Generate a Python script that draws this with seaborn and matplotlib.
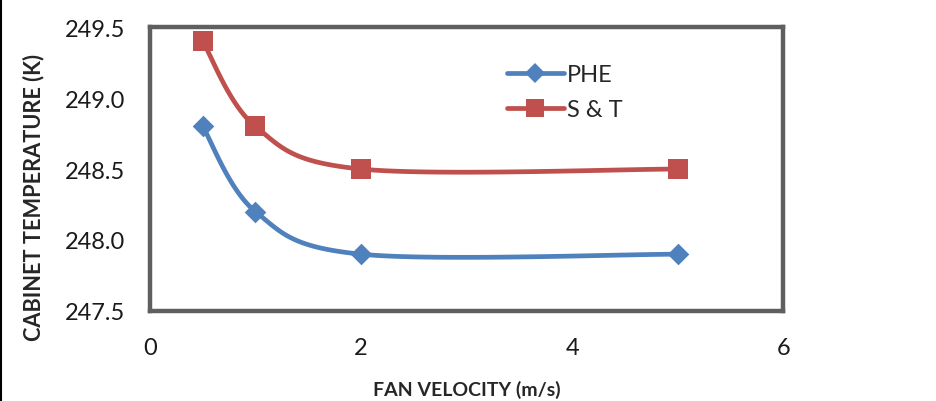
import numpy as np
import pandas as pd
import matplotlib
matplotlib.use("Agg")
import matplotlib.pyplot as plt
from matplotlib.lines import Line2D
import seaborn as sns

velocity = [0.5, 1, 2, 5]
phe = [248.8, 248.2, 247.9, 247.9]
st = [249.4, 248.8, 248.5, 248.5]
series_names = ["PHE", "S & T"]
xticks = [0, 2, 4, 6]
yticks = [247.5, 248.0, 248.5, 249.0, 249.5]

BLUE = "#4F81BD"
RED = "#C0504D"
FRAME = "#5F5F5F"


def smooth(x, y, n=40):
    # Excel-style smoothed line (Catmull-Rom Bezier through the points)
    x = np.asarray(x, float)
    y = np.asarray(y, float)
    px, py = [], []
    m = len(x)
    for i in range(m - 1):
        x0, y0 = (x[i - 1], y[i - 1]) if i > 0 else (x[i], y[i])
        x3, y3 = (x[i + 2], y[i + 2]) if i + 2 < m else (x[i + 1], y[i + 1])
        x1, y1, x2, y2 = x[i], y[i], x[i + 1], y[i + 1]
        c1x, c1y = x1 + (x2 - x0) / 6, y1 + (y2 - y0) / 6
        c2x, c2y = x2 - (x3 - x1) / 6, y2 - (y3 - y1) / 6
        t = np.linspace(0, 1, n)
        bx = (1 - t) ** 3 * x1 + 3 * (1 - t) ** 2 * t * c1x + 3 * (1 - t) * t ** 2 * c2x + t ** 3 * x2
        by = (1 - t) ** 3 * y1 + 3 * (1 - t) ** 2 * t * c1y + 3 * (1 - t) * t ** 2 * c2y + t ** 3 * y2
        px.extend(bx)
        py.extend(by)
    return np.array(px), np.array(py)


sns.set_style("white")
plt.rcParams["font.family"] = ["Lato", "DejaVu Sans"]

fig = plt.figure(figsize=(9.37, 4.02), dpi=100)
ax = fig.add_axes([0.160, 0.224, 0.676, 0.706])

for name, vals, color, marker, ms in [(series_names[0], phe, BLUE, "D", 11),
                                      (series_names[1], st, RED, "s", 14)]:
    sx, sy = smooth(velocity, vals)
    sns.lineplot(x=sx, y=sy, ax=ax, color=color, lw=3.4, sort=False, estimator=None)
    df = pd.DataFrame({"x": velocity, "y": vals})
    sns.scatterplot(data=df, x="x", y="y", ax=ax, color=color, marker=marker,
                    s=ms ** 2, linewidth=0, zorder=5)

ax.set_xlim(0, 6)
ax.set_ylim(247.5, 249.5)
ax.set_xticks(xticks)
ax.set_xticklabels([str(t) for t in xticks])
ax.set_yticks(yticks)
ax.set_yticklabels([f"{t:.1f}" for t in yticks])

for sp in ax.spines.values():
    sp.set_visible(True)
    sp.set_color(FRAME)
    sp.set_linewidth(3.2)

ax.tick_params(axis="both", which="both", direction="out", length=6, width=1,
               color="#8c8c8c", labelsize=17, labelcolor="#1a1a1a")
ax.tick_params(axis="y", pad=12)
ax.tick_params(axis="x", pad=13)

ax.set_xlabel("FAN VELOCITY (m/s)", fontsize=14, fontweight="bold")
ax.xaxis.set_label_coords(0.5, -0.243)
ax.set_ylabel("CABINET TEMPERATURE (K)", fontsize=15.7, fontweight="bold")
ax.yaxis.set_label_coords(-0.167, 0.405)

handles = [
    Line2D([], [], color=BLUE, lw=3.4, marker="D", markersize=10, markeredgewidth=0),
    Line2D([], [], color=RED, lw=3.4, marker="s", markersize=13, markeredgewidth=0),
]
ax.legend(handles, series_names, loc="upper left", bbox_to_anchor=(0.564, 0.87),
          frameon=False, fontsize=17, handlelength=2.4, handletextpad=0.15,
          labelspacing=0.6, borderaxespad=0, borderpad=0)

fig.add_artist(Line2D([0.0015, 0.0015], [0, 1], color="black", lw=1.5,
                      transform=fig.transFigure))

fig.savefig("out.png", dpi=100, facecolor="white")
